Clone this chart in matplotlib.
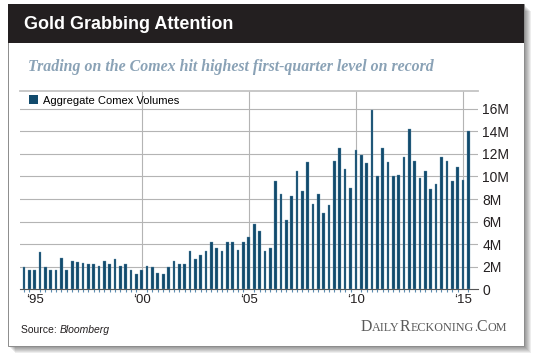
import numpy as np
import matplotlib
matplotlib.use("Agg")
import matplotlib.pyplot as plt
from matplotlib.patches import Rectangle, Patch
from matplotlib.ticker import FixedLocator

# ---------------- data ----------------
title = "Gold Grabbing Attention"
subtitle = "Trading on the Comex hit highest first-quarter level on record"
series_name = "Aggregate Comex Volumes"
source_label = "Source: "
source_name = "Bloomberg"
first_quarter_year = 1994.5          # first bar = Q3 1994
volumes_m = [1.95, 1.69, 1.72, 3.28, 1.95, 1.72, 1.72, 2.75, 1.72, 2.51,
             2.40, 2.37, 2.28, 2.28, 2.07, 2.51, 2.28, 2.72, 2.07, 2.28,
             1.72, 1.36, 1.69, 2.07, 1.95, 1.42, 1.39, 1.95, 2.51, 2.28,
             2.28, 3.40, 2.72, 3.04, 3.40, 4.22, 3.63, 3.40, 4.22, 4.22,
             3.52, 4.23, 4.68, 5.80, 5.20, 3.40, 3.65, 9.60, 8.40, 6.10,
             8.30, 10.5, 8.70, 11.3, 7.60, 8.40, 6.80, 7.50, 11.4, 12.5,
             10.7, 9.00, 12.35, 11.9, 11.2, 15.9, 10.05, 12.5, 11.25, 10.05,
             10.1, 11.75, 14.2, 11.4, 9.85, 10.5, 8.85, 9.30, 11.75, 11.4,
             9.60, 10.85, 9.70, 14.05]
tick_years = [1995, 2000, 2005, 2010, 2015]
tick_labels = ["\u201895", "\u201800", "\u201805", "\u201810", "\u201815"]
y_ticks = [0, 2, 4, 6, 8, 10, 12, 14, 16]
y_tick_labels = ["0", "2M", "4M", "6M", "8M", "10M", "12M", "14M", "16M"]

# ---------------- figure ----------------
W, H = 540, 355
fig = plt.figure(figsize=(W / 100, H / 100), dpi=100)
fig.patch.set_facecolor("white")

def fx(x):
    return x / W

def fy(y):
    return 1 - y / H

def frect(x0, y0, x1, y1, **kw):
    r = Rectangle((fx(x0), fy(y1)), fx(x1) - fx(x0), fy(y0) - fy(y1),
                  transform=fig.transFigure, **kw)
    fig.patches.append(r)
    return r

# card shadow
for d in range(1, 8):
    frect(8 + d, 4 + d, 524 + d, 346 + d, facecolor="black", edgecolor="none",
          alpha=0.07, zorder=0)
# card
frect(8, 4, 524, 346, facecolor="white", edgecolor="#8c8c8c", lw=0.7, zorder=1)
# header
frect(8, 4, 524, 43, facecolor="#231f20", edgecolor="none", zorder=2)

fig.text(fx(24), fy(24.5), title, color="white", fontsize=13, fontweight="bold",
         family="Liberation Sans", va="center", ha="left", zorder=3)
fig.text(fx(28), fy(67), subtitle, color="#8aa2b6", fontsize=11.4,
         fontweight="bold", fontstyle="italic", family="Liberation Serif",
         va="center", ha="left", zorder=3)

# ---------------- axes ----------------
ax_left, ax_right, ax_top, ax_bottom = 20, 478, 91, 289.4
ax = fig.add_axes([fx(ax_left), fy(ax_bottom), (ax_right - ax_left) / W,
                   (ax_bottom - ax_top) / H])
ax.set_zorder(3)
ax.patch.set_alpha(0)

n = len(volumes_m)
idx = np.arange(n)
bar_color = "#114a6c"
ax.bar(idx, volumes_m, width=0.5, color=bar_color, edgecolor="#6d97b3",
       linewidth=0.25, zorder=3)

def year_to_x(y):
    return (y - first_quarter_year) * 4

ax.set_xlim(-0.75, n - 1 + 1.82)
ax.set_ylim(0, 17.56)

# horizontal grid
for v in y_ticks[1:]:
    ax.axhline(v, color="#b4b4b4", lw=0.8, zorder=1)
# vertical grid
for yr in tick_years[1:]:
    ax.axvline(year_to_x(yr), color="#b4b4b4", lw=0.8, zorder=1)

for s in ["left", "right"]:
    ax.spines[s].set_visible(False)
ax.spines["top"].set_color("#c4c4c4")
ax.spines["top"].set_linewidth(1.3)
ax.spines["bottom"].set_color("#555555")
ax.spines["bottom"].set_linewidth(0.8)

ax.set_xticks([year_to_x(y) for y in tick_years])
ax.set_xticklabels(tick_labels, family="Liberation Sans", fontsize=9.5,
                   color="#231f20")
ax.xaxis.set_minor_locator(FixedLocator(idx))
ax.tick_params(axis="x", which="major", length=0, pad=3)
ax.tick_params(axis="x", which="minor", length=2, width=0.8, color="#5d8db0")

ax.yaxis.tick_right()
ax.set_yticks(y_ticks)
ax.set_yticklabels(y_tick_labels, family="Liberation Sans", fontsize=10,
                   color="#231f20")
ax.tick_params(axis="y", length=0, pad=3)

leg = ax.legend(handles=[Patch(facecolor=bar_color, edgecolor="none",
                               label=series_name)],
                loc="center left", bbox_to_anchor=(fx(29), fy(100.5)),
                bbox_transform=fig.transFigure, frameon=False,
                borderaxespad=0, borderpad=0, handlelength=0.85,
                handleheight=0.85, handletextpad=0.45,
                prop={"family": "Liberation Sans", "size": 8})

# ---------------- footer ----------------
renderer = fig.canvas.get_renderer()
t1 = fig.text(fx(21), fy(333), source_label, fontsize=7.5,
              family="Liberation Sans", color="#231f20", va="baseline", zorder=3)
w1 = t1.get_window_extent(renderer).width
fig.text(fx(21 + w1), fy(333), source_name, fontsize=7.5,
         family="Liberation Sans", fontstyle="italic", color="#231f20",
         va="baseline", zorder=3)

brand_parts = [("D", 11.4), ("AILY", 8.7), ("R", 11.4), ("ECKONING", 8.7),
               (".", 8.7), ("C", 11.4), ("OM", 8.7)]
x = 361.0
for txt, size in brand_parts:
    t = fig.text(fx(x), fy(331), txt, fontsize=size, family="Liberation Serif",
                 color="#5a5a5a", va="baseline", ha="left", zorder=3)
    x += t.get_window_extent(renderer).width

fig.savefig("out.png", dpi=100)
